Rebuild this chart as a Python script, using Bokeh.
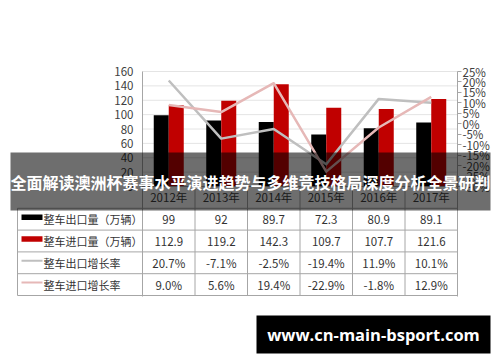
import numpy as np
from bokeh.plotting import figure
from bokeh.models import (Range1d, LinearAxis, FixedTicker, PrintfTickFormatter,
                          ColumnDataSource)
from bokeh.core.properties import value
from bokeh.embed import file_html
from bokeh.resources import INLINE

# ---------------- data ----------------
years = ["2012年", "2013年", "2014年", "2015年", "2016年", "2017年"]
export_vol = [99, 92, 89.7, 72.3, 80.9, 89.1]
import_vol = [112.9, 119.2, 142.3, 109.7, 107.7, 121.6]
export_growth = [20.7, -7.1, -2.5, -19.4, 11.9, 10.1]
import_growth = [9.0, 5.6, 19.4, -22.9, -1.8, 12.9]
series_names = ["整车出口量（万辆）", "整车进口量（万辆）", "整车出口增长率", "整车进口增长率"]
left_ticks = [0, 20, 40, 60, 80, 100, 120, 140, 160]
right_ticks = [-30, -25, -20, -15, -10, -5, 0, 5, 10, 15, 20, 25]
title_text = "全面解读澳洲杯赛事水平演进趋势与多维竞技格局深度分析全景研判"
watermark_text = "www.cn-main-bsport.com"

# ---------------- layout constants (pixels) ----------------
W, H = 500, 362
PL, PR, PT = 142, 457, 71          # plot area left / right / top
Y0 = 186                            # chart baseline
TB = 296                            # table bottom
ROW = 21.8                          # table row height
CAT = (PR - PL) / len(years)
FONT = "Noto Sans CJK SC"
TXT = "#333333"
LINEC = "#a6a6a6"

lper = (Y0 - PT) / (left_ticks[-1] - left_ticks[0])      # px per unit
pper = (Y0 - PT) / (right_ticks[-1] - right_ticks[0])    # px per percent


def xd(px):
    return (px - PL) / CAT - 0.5


def vd(py):
    return left_ticks[0] + (Y0 - py) / lper


def pd_(py):
    return right_ticks[0] + (Y0 - py) / pper


def td(py):
    return (Y0 - py) / ROW


p = figure(width=W, height=H, output_backend="svg", toolbar_location=None,
           x_range=Range1d(xd(0), xd(W)), y_range=Range1d(vd(H), vd(0)),
           min_border=0, min_border_left=0, min_border_right=0,
           min_border_top=0, min_border_bottom=0,
           x_axis_location=None, y_axis_location=None, outline_line_color=None,
           background_fill_color="white", border_fill_color="white")
p.extra_y_ranges = {
    "pct": Range1d(pd_(H), pd_(0)),
    "tbl": Range1d(td(H), td(0)),
}
p.xgrid.visible = False
p.ygrid.visible = False

# ---------------- axes ----------------
ya = LinearAxis(ticker=FixedTicker(ticks=left_ticks), fixed_location=-0.5,
                bounds=(vd(TB), left_ticks[-1]),
                major_tick_out=0, major_tick_in=0, minor_tick_out=0, minor_tick_in=0,
                axis_line_color=LINEC, major_label_standoff=9,
                major_label_text_font=FONT, major_label_text_font_size="11.5px",
                major_label_text_color="#404040")
p.add_layout(ya, "left")

ra = LinearAxis(y_range_name="pct", ticker=FixedTicker(ticks=right_ticks),
                fixed_location=len(years) - 0.5,
                bounds=(pd_(TB), right_ticks[-1]),
                formatter=PrintfTickFormatter(format="%d%%"),
                major_tick_out=4, major_tick_in=0, minor_tick_out=0, minor_tick_in=0,
                axis_line_color=LINEC, major_tick_line_color=LINEC,
                major_label_standoff=1, major_label_text_font=FONT,
                major_label_text_font_size="11.5px", major_label_text_color="#404040")
p.add_layout(ra, "right")

idx = np.arange(len(years))
x0, x1 = -0.5, len(years) - 0.5

# horizontal gridlines
p.segment(x0=[x0] * len(left_ticks), x1=[x1] * len(left_ticks),
          y0=left_ticks, y1=left_ticks, line_color="#e4e4e4", line_width=1)

# ---------------- bars & lines ----------------
bw = 15 / CAT
p.vbar(x=idx - bw / 2, top=export_vol, width=bw, bottom=0,
       fill_color="black", line_color=None)
p.vbar(x=idx + bw / 2, top=import_vol, width=bw, bottom=0,
       fill_color="#c00000", line_color=None)

p.line(idx, export_growth, y_range_name="pct", line_color="#bfbfbf",
       line_width=2.5, line_join="round")
p.line(idx, import_growth, y_range_name="pct", line_color="#e6b8b7",
       line_width=2.5, line_join="round")

# baseline
p.segment(x0=[x0], y0=[0], x1=[x1], y1=[0], line_color=LINEC, line_width=1)

# ---------------- data table ----------------
nrows = 5
p.segment(x0=idx[1:] - 0.5, y0=[0] * (len(years) - 1), x1=idx[1:] - 0.5,
          y1=[-nrows] * (len(years) - 1), y_range_name="tbl",
          line_color=LINEC, line_width=1)
hl = list(range(1, nrows + 1))
p.segment(x0=[xd(17)] * nrows, x1=[x1] * nrows, y0=[-k for k in hl], y1=[-k for k in hl],
          y_range_name="tbl", line_color=LINEC, line_width=1)
p.segment(x0=[xd(17)], x1=[xd(17)], y0=[-1], y1=[-nrows], y_range_name="tbl",
          line_color=LINEC, line_width=1)

p.text(x=idx, y=[-0.5] * len(years), text=years, y_range_name="tbl",
       text_align="center", text_baseline="middle", text_font=value(FONT),
       text_font_size="11.5px", text_color="#404040")

rows = [
    [f"{v:g}" for v in export_vol],
    [f"{v:g}" for v in import_vol],
    [f"{v:.1f}%" for v in export_growth],
    [f"{v:.1f}%" for v in import_growth],
]
cx, cy, ct = [], [], []
for r, row in enumerate(rows):
    for i, t in enumerate(row):
        cx.append(i)
        cy.append(-(r + 1.5))
        ct.append(t)
p.text(x="x", y="y", text="t", source=ColumnDataSource(dict(x=cx, y=cy, t=ct)),
       y_range_name="tbl", text_align="center", text_baseline="middle",
       text_font=value(FONT), text_font_size="11.5px", text_color=TXT)

# legend column
row_c = [-(r + 1.5) for r in range(len(series_names))]
p.text(x=[xd(43)] * len(series_names), y=row_c, text=series_names, y_range_name="tbl",
       text_align="left", text_baseline="middle", text_font=value(FONT),
       text_font_size="11px", text_color=TXT)
sw_off = 2 / ROW
p.quad(left=[xd(21)] * 2, right=[xd(42)] * 2,
       top=[c + sw_off + 2.75 / ROW for c in row_c[:2]],
       bottom=[c + sw_off - 2.75 / ROW for c in row_c[:2]],
       y_range_name="tbl", fill_color=["black", "#c00000"], line_color=None)
p.segment(x0=[xd(21)] * 2, x1=[xd(42)] * 2,
          y0=[c + sw_off for c in row_c[2:]], y1=[c + sw_off for c in row_c[2:]],
          y_range_name="tbl", line_color=["#bfbfbf", "#e6b8b7"], line_width=2)

# ---------------- banner overlay ----------------
p.quad(left=[xd(10)], right=[xd(490)], top=[td(152)], bottom=[td(210)],
       y_range_name="tbl", fill_color="black", fill_alpha=0.57, line_color=None,
       level="overlay")
p.text(x=[xd(250)], y=[td(181.5)], text=[title_text], y_range_name="tbl",
       text_align="center", text_baseline="middle", text_font=value(FONT),
       text_font_style="bold", text_font_size="16px", text_color="white",
       level="overlay")

# ---------------- watermark ----------------
p.quad(left=[xd(256)], right=[xd(490)], top=[td(315)], bottom=[td(353)],
       y_range_name="tbl", fill_color="black", line_color=None, level="overlay")
p.text(x=[xd(373)], y=[td(334)], text=[watermark_text], y_range_name="tbl",
       text_align="center", text_baseline="middle", text_font=value("Open Sans"),
       text_font_style="bold", text_font_size="16.5px", text_color="white",
       level="overlay")

open("out.html", "w").write(file_html(p, INLINE))
